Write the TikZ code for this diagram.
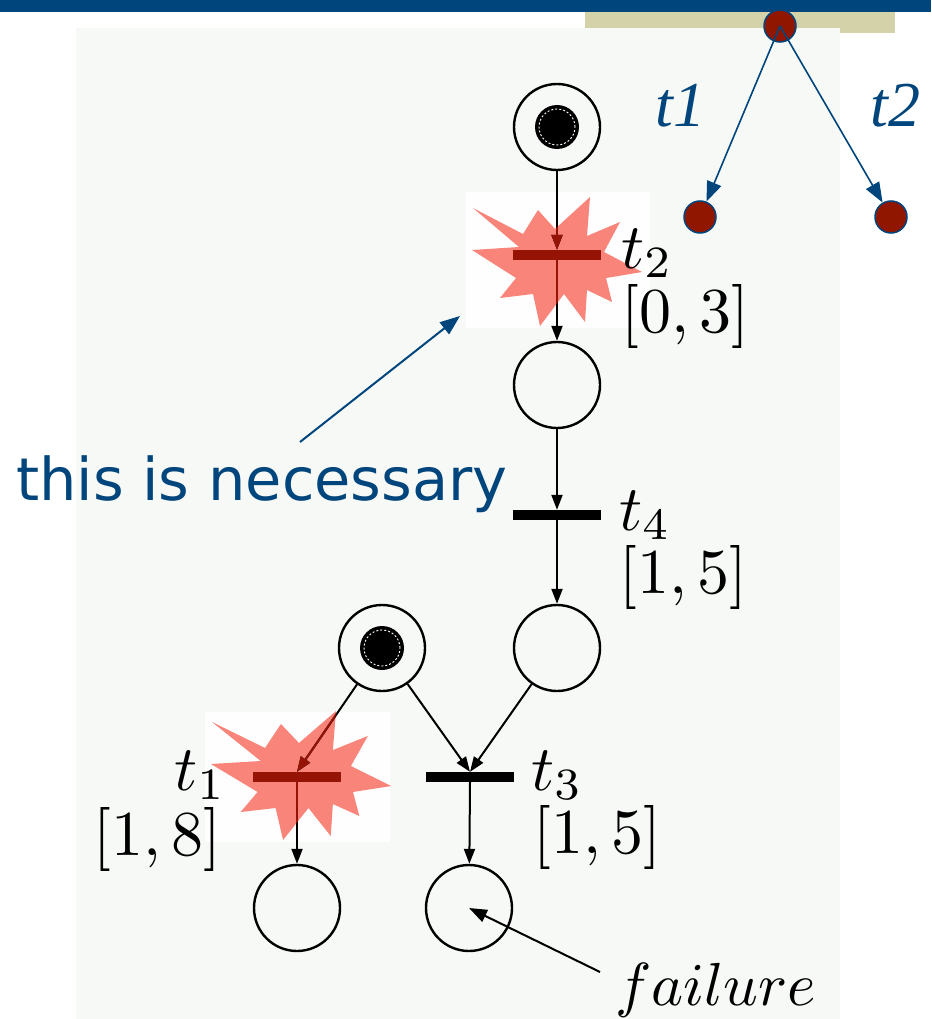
\documentclass[tikz,border=0pt]{standalone}
\usepackage{fontspec}
\newfontfamily\notefont{DejaVu Sans}
\newfontfamily\serifit{Liberation Serif}
\usetikzlibrary{arrows.meta}
\definecolor{barblue}{RGB}{0,69,124}
\definecolor{tanbar}{RGB}{212,210,168}
\definecolor{panelbg}{RGB}{247,249,247}
\definecolor{boxbg}{RGB}{254,254,254}
\definecolor{burst}{RGB}{248,132,122}
\definecolor{fire}{RGB}{150,20,5}
\definecolor{dotred}{RGB}{145,22,0}
\newcommand\burstpath{(-83,-54) \foreach \u/\v in {-33/-28, -18/-52, -1/-33, 34/-65, 31/-26, 64/-40, 48/-10, 86/10, 50/16, 56/40, 31/28, 29/60, 8/32, -16/64, -23/32, -56/36, -40/16, -84/-12, -37/-15}{ -- (\u,\v) } -- cycle}
\begin{document}
\begin{tikzpicture}[x=1pt,y=-1pt,
  place/.style={circle, draw=black, line width=2.4pt, minimum size=86pt, inner sep=0pt},
  trans/.style={rectangle, fill=black, minimum width=88pt, minimum height=10pt, inner sep=0pt},
  firing/.style={trans, fill=fire},
  arc/.style={line width=2pt, -{Triangle[length=15pt,width=11pt]}},
  lbl/.style={scale=6.4, inner sep=0pt, anchor=base west},
  bluelbl/.style={font=\serifit\itshape\fontsize{64}{64}\selectfont, text=barblue, inner sep=0pt, anchor=base west},
  dot/.style={circle, fill=dotred, draw=barblue, line width=1.5pt, minimum size=32pt, inner sep=0pt},
  barrow/.style={draw=barblue, line width=1.6pt, -{Triangle[length=20pt,width=15pt]}, fill=barblue}
]
\useasboundingbox (0,0) rectangle (931,1019);
\fill[white] (0,0) rectangle (931,1019);
\fill[barblue] (0,0) rectangle (931,12);
\fill[tanbar] (585,12) rectangle (895,33);
\fill[panelbg] (76,28) rectangle (840,1019);
\fill[boxbg] (466,192) rectangle (650,328);
\fill[boxbg] (205,712) rectangle (390,842);
% bursts
\fill[burst, shift={(556,262)}] \burstpath;
\fill[burst, shift={(300,776)}, xscale=1.06] \burstpath;
% places and transitions
\node[place] (P1) at (557,127) {};
\node[firing] (t2) at (557,255) {};
\node[place] (P2) at (557,385) {};
\node[trans] (t4) at (557,515) {};
\node[place] (P3) at (557,648) {};
\node[place] (P4) at (382,648) {};
\node[firing] (t1) at (297,777) {};
\node[trans] (t3) at (470,777) {};
\node[place] (P5) at (297,908) {};
\node[place] (P6) at (469,908) {};
% tokens
\foreach \p in {P1,P4}{
  \fill[black] (\p.center) circle[radius=22pt];
  \draw[white, line width=0.9pt, dash pattern=on 2pt off 2pt] (\p.center) circle[radius=18pt];
}
% arcs
\draw[arc] (P1) -- (t2.north);
\draw[arc] (t2.south) -- (P2);
\draw[arc] (P2) -- (t4.north);
\draw[arc] (t4.south) -- (P3);
\draw[arc] (P4) -- (t1.north);
\draw[arc] (P4) -- (t3.north);
\draw[arc] (P3) -- (t3.north);
\draw[arc] (t1.south) -- (P5);
\draw[arc] (t3.south) -- (P6);
% arcs turn red inside the bursts
\begin{scope}
  \clip[shift={(556,262)}] \burstpath;
  \draw[arc, fire] (P1) -- (t2.north);
  \draw[line width=2pt, fire] (t2.south) -- (P2);
\end{scope}
\begin{scope}
  \clip[shift={(300,776)}, xscale=1.06] \burstpath;
  \draw[arc, fire] (P4) -- (t1.north);
  \draw[line width=2pt, fire] (t1.south) -- (P5);
\end{scope}
% labels
\node[lbl] (lt2) at (620,268) {$t_2$};
\node[lbl] (it2) at (620,332) {$[0,3]$};
\node[lbl] (lt4) at (618,530) {$t_4$};
\node[lbl] (it4) at (618,593) {$[1,5]$};
\node[lbl] (lt3) at (530,790) {$t_3$};
\node[lbl] (it3) at (532,853) {$[1,5]$};
\node[lbl] (lt1) at (173,790) {$t_1$};
\node[lbl] (it1) at (92,855) {$[1,8]$};
\node[lbl, scale=0.95] (fail) at (614,1005) {$failure$};
\coordinate (failA) at (600,972);
\draw[line width=2pt, -{Triangle[length=18pt,width=13pt]}] (failA) -- (P6.center);
% annotation
\node[font=\notefont\fontsize{59}{59}\selectfont, text=barblue, inner sep=0pt, anchor=base west] (note) at (16,500) {this is necessary};
\coordinate (noteA) at (300,442);
\coordinate (noteB) at (460,316);
\draw[barrow, line width=2pt] (noteA) -- (noteB);
% top-right tree
\node[dot] (d0) at (780,26) {};
\node[dot] (d1) at (700,217) {};
\node[dot] (d2) at (891,217) {};
\draw[barrow] (d0.center) -- (d1);
\draw[barrow] (d0.center) -- (d2);
\node[bluelbl] (b1) at (655,127) {t1};
\node[bluelbl] (b2) at (870,127) {t2};
\end{tikzpicture}
\end{document}
